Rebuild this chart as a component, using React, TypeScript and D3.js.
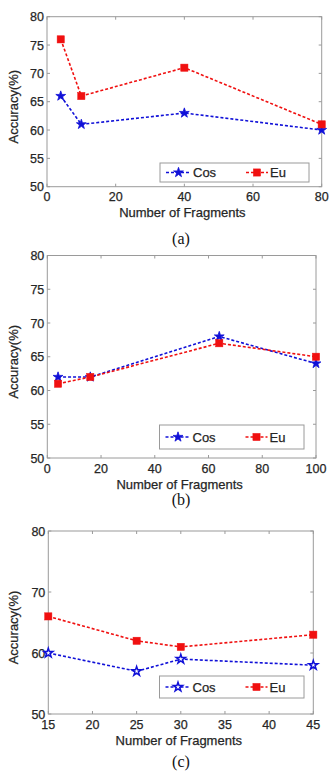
import React, { useEffect } from 'react';
import * as d3 from 'd3';

// values
const cosA = [
  [4, 66],
  [10, 61],
  [40, 63],
  [80, 60],
];
const euA = [
  [4, 76],
  [10, 66],
  [40, 71],
  [80, 61],
];
const cosB = [
  [4, 62],
  [16, 62],
  [64, 68],
  [100, 64],
];
const euB = [
  [4, 61],
  [16, 62],
  [64, 67],
  [100, 65],
];
const cosC = [
  [15, 60],
  [25, 57],
  [30, 59],
  [45, 58],
];
const euC = [
  [15, 66],
  [25, 62],
  [30, 61],
  [45, 63],
];
const xTicksA = [0, 20, 40, 60, 80];
const xTicksB = [0, 20, 40, 60, 80, 100];
const xTicksC = [15, 20, 25, 30, 35, 40, 45];
const yTicksAB = [50, 55, 60, 65, 70, 75, 80];
const yTicksC = [50, 60, 70, 80];

const BLUE = '#1010d8';
const RED = '#f01010';
const AXIS = '#9a9a9a';
const INK = '#262626';
const FONT = '"Liberation Sans", Arial, sans-serif';

type Pt = number[];

interface PanelProps {
  cos: Pt[];
  eu: Pt[];
  xDomain: [number, number];
  xTicks: number[];
  yTicks: number[];
  left: number;
  right: number;
  top: number;
  bottom: number;
  legend: { x: number; y: number; w: number; h: number };
  caption: string;
  captionY: number;
  openStar?: boolean;
}

const Label = (props: any) => (
  <text fontSize={13} fontFamily={FONT} fill={INK} stroke={INK} strokeWidth={0.25} {...props} />
);

const Panel = (p: PanelProps) => {
  const x = d3.scaleLinear().domain(p.xDomain).range([p.left, p.right]);
  const y = d3.scaleLinear().domain([50, 80]).range([p.bottom, p.top]);
  const ln = d3
    .line<Pt>()
    .x((d) => x(d[0]))
    .y((d) => y(d[1]));
  const star = d3.symbol(d3.symbolStar, p.openStar ? 26 : 30)()!;
  const tk = 3;
  const lg = p.legend;
  const midY = lg.y + lg.h / 2;

  const cosMarker = (cx: number, cy: number, k: string) => (
    <path
      key={k}
      d={star}
      transform={`translate(${cx},${cy})`}
      fill={p.openStar ? '#fff' : BLUE}
      stroke={BLUE}
      strokeWidth={p.openStar ? 1.5 : 0.8}
    />
  );
  const euMarker = (cx: number, cy: number, k: string) => (
    <rect key={k} x={cx - 3.6} y={cy - 3.6} width={7.2} height={7.2} fill={RED} stroke={RED} strokeWidth={0.5} />
  );

  return (
    <g>
      <rect x={p.left} y={p.top} width={p.right - p.left} height={p.bottom - p.top} fill="#fff" stroke={AXIS} strokeWidth={1} />
      {p.xTicks.map((t) => (
        <g key={'x' + t}>
          <line x1={x(t)} x2={x(t)} y1={p.bottom} y2={p.bottom - tk} stroke={AXIS} />
          <line x1={x(t)} x2={x(t)} y1={p.top} y2={p.top + tk} stroke={AXIS} />
          <Label x={x(t)} y={p.bottom + 14.5} textAnchor="middle" fontSize={12.5}>
            {t}
          </Label>
        </g>
      ))}
      {p.yTicks.map((t) => (
        <g key={'y' + t}>
          <line x1={p.left} x2={p.left + tk} y1={y(t)} y2={y(t)} stroke={AXIS} />
          <line x1={p.right} x2={p.right - tk} y1={y(t)} y2={y(t)} stroke={AXIS} />
          <Label x={p.left - 3} y={y(t) + 4.5} textAnchor="end" fontSize={12.5}>
            {t}
          </Label>
        </g>
      ))}
      <Label x={(p.left + p.right) / 2 - 2} y={p.bottom + 30.5} textAnchor="middle">
        Number of Fragments
      </Label>
      <Label transform={`translate(${18},${(p.top + p.bottom) / 2 + 5}) rotate(-90)`} textAnchor="middle">
        Accuracy(%)
      </Label>

      <path d={ln(p.cos)!} fill="none" stroke={BLUE} strokeWidth={1.6} strokeDasharray="3,2" />
      <path d={ln(p.eu)!} fill="none" stroke={RED} strokeWidth={1.6} strokeDasharray="3,2" />
      {p.cos.map((d, i) => cosMarker(x(d[0]), y(d[1]), 'c' + i))}
      {p.eu.map((d, i) => euMarker(x(d[0]), y(d[1]), 'e' + i))}

      <rect x={lg.x} y={lg.y} width={lg.w} height={lg.h} fill="#fff" stroke={AXIS} strokeWidth={1} />
      <line x1={lg.x + 6} x2={lg.x + 31} y1={midY} y2={midY} stroke={BLUE} strokeWidth={1.6} strokeDasharray="3,2" />
      {cosMarker(lg.x + 18.5, midY, 'lc')}
      <Label x={lg.x + 33} y={midY + 4.5}>
        Cos
      </Label>
      <line x1={lg.x + 86} x2={lg.x + 108} y1={midY} y2={midY} stroke={RED} strokeWidth={1.6} strokeDasharray="3,2" />
      {euMarker(lg.x + 97, midY, 'le')}
      <Label x={lg.x + 110} y={midY + 4.5}>
        Eu
      </Label>

      <text x={181} y={p.captionY} textAnchor="middle" fontSize={16} fontFamily='"Liberation Serif", "Times New Roman", serif' fill="#111">
        {p.caption}
      </text>
    </g>
  );
};

export default function App() {
  useEffect(() => {
    document.body.style.margin = '0';
  }, []);
  return (
    <svg width={329} height={773} style={{ display: 'block', background: '#fff' }}>
      <Panel
        cos={cosA}
        eu={euA}
        xDomain={[0, 80]}
        xTicks={xTicksA}
        yTicks={yTicksAB}
        left={47}
        right={321.7}
        top={16.7}
        bottom={186.7}
        legend={{ x: 160, y: 163, w: 149, h: 19 }}
        caption="(a)"
        captionY={244}
      />
      <Panel
        cos={cosB}
        eu={euB}
        xDomain={[0, 100]}
        xTicks={xTicksB}
        yTicks={yTicksAB}
        left={47.3}
        right={316}
        top={255.5}
        bottom={458}
        legend={{ x: 159.5, y: 425, w: 144.5, h: 24 }}
        caption="(b)"
        captionY={505}
      />
      <Panel
        cos={cosC}
        eu={euC}
        xDomain={[15, 45]}
        xTicks={xTicksC}
        yTicks={yTicksC}
        left={48.3}
        right={313.3}
        top={531}
        bottom={714}
        legend={{ x: 159.5, y: 676, w: 144.5, h: 22 }}
        caption="(c)"
        captionY={767}
        openStar
      />
    </svg>
  );
}
